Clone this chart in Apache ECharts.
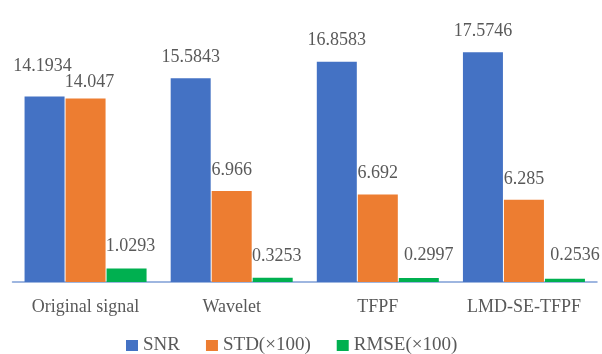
<!DOCTYPE html>
<html>
<head>
<meta charset="utf-8">
<script src="https://cdn.jsdelivr.net/npm/echarts@6/dist/echarts.min.js"></script>
<style>
  html, body { margin: 0; padding: 0; background: #ffffff; }
  #chart { width: 602px; height: 354px; }
</style>
</head>
<body>
<div id="chart"></div>
<script>
// Denoising comparison: SNR, STD(×100) and RMSE(×100) per method
const methods = ['Original signal', 'Wavelet', 'TFPF', 'LMD-SE-TFPF'];
const snr = [14.1934, 15.5843, 16.8583, 17.5746];
const std100 = [14.047, 6.966, 6.692, 6.285];
const rmse100 = [1.0293, 0.3253, 0.2997, 0.2536];
const seriesNames = ['SNR', 'STD(×100)', 'RMSE(×100)'];

// Label nudges (x, y in px) so neighbouring value labels don't collide
const snrLabelNudge = [[-2, -9], [0, 0], [0, 0], [0, 0]];
const stdLabelNudge = [[4, 5], [0, 0], [0, 0], [0, 0]];
const rmseLabelNudge = [[4, -1], [4, 0], [10, -2], [10, -2]];

const colors = ['#4472C4', '#ED7D31', '#00B050'];
const textGray = '#595959';
const serif = '"Liberation Serif", "DejaVu Serif", serif';

function buildSeries(name, values, nudges, color) {
  return {
    name: name,
    type: 'bar',
    barGap: '2.5%',
    barCategoryGap: '16.5%',
    itemStyle: { color: color },
    label: {
      show: true,
      position: 'top',
      distance: 12,
      color: textGray,
      fontFamily: serif,
      fontSize: 18,
      formatter: function (p) { return String(values[p.dataIndex]); }
    },
    data: values.map(function (v, i) {
      return { value: v, label: { offset: nudges[i] } };
    })
  };
}

const chart = echarts.init(document.getElementById('chart'), null, { renderer: 'canvas' });
chart.setOption({
  animation: false,
  backgroundColor: '#ffffff',
  grid: { left: 12.5, right: 5, top: 20.6, bottom: 72, containLabel: false },
  legend: {
    data: seriesNames,
    left: 121,
    top: 331,
    icon: 'rect',
    itemWidth: 12,
    itemHeight: 11,
    itemGap: 26,
    textStyle: { color: textGray, fontFamily: serif, fontSize: 19 }
  },
  xAxis: {
    type: 'category',
    data: methods,
    axisLine: { show: true, lineStyle: { color: '#7F9FD6', width: 1.5 } },
    axisTick: { show: false },
    axisLabel: { color: textGray, fontFamily: serif, fontSize: 18, margin: 16, interval: 0 }
  },
  yAxis: {
    type: 'value',
    min: 0,
    max: 20,
    show: false,
    splitLine: { show: false }
  },
  series: [
    buildSeries(seriesNames[0], snr, snrLabelNudge, colors[0]),
    buildSeries(seriesNames[1], std100, stdLabelNudge, colors[1]),
    buildSeries(seriesNames[2], rmse100, rmseLabelNudge, colors[2])
  ]
});
</script>
</body>
</html>
